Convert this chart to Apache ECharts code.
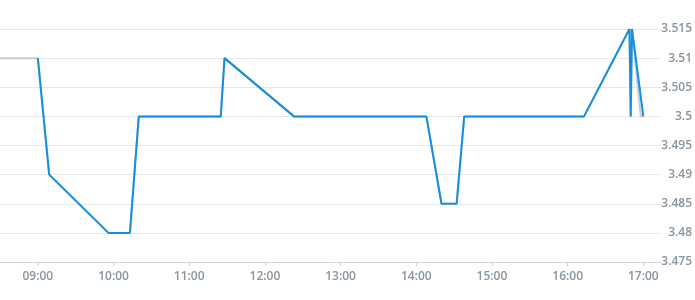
<!DOCTYPE html>
<html>
<head>
<meta charset="utf-8">
<script src="https://cdn.jsdelivr.net/npm/echarts@6/dist/echarts.min.js"></script>
<style>
html,body{margin:0;padding:0;background:#fff;}
#chart{width:695px;height:300px;}
</style>
</head>
<body>
<div id="chart"></div>
<script>
var day = '2024-01-02 ';
var blueTimes = ['09:00','09:09','09:56','10:13','10:20','11:25','11:28','12:23','14:08','14:20','14:32','14:38','16:13','16:49','16:50','16:51','17:00'];
var blueValues = [3.51,3.49,3.48,3.48,3.50,3.50,3.51,3.50,3.50,3.485,3.485,3.50,3.50,3.515,3.50,3.515,3.50];
var grayTimes = ['08:30','09:00','09:09','09:56','10:13','10:20','11:25','11:28','12:23','14:08','14:20','14:32','14:38','16:13','16:49','16:50','16:51','16:58','17:00'];
var grayValues = [3.51,3.51,3.49,3.48,3.48,3.50,3.50,3.51,3.50,3.50,3.485,3.485,3.50,3.50,3.515,3.50,3.515,3.50,3.50];
var xMin = '08:30';
var xMax = '17:14';
var yMin = 3.475, yMax = 3.515, yStep = 0.005;

function pairs(t, v){ return t.map(function(s,i){ return [day + s, v[i]]; }); }

var chart = echarts.init(document.getElementById('chart'), null, {renderer:'canvas'});
chart.setOption({
  animation:false,
  backgroundColor:'#fff',
  grid:{left:0, right:32, top:29, bottom:38, containLabel:false},
  xAxis:{
    type:'time',
    min: day + xMin,
    max: day + xMax,
    minInterval: 3600000,
    maxInterval: 3600000,
    axisLine:{lineStyle:{color:'#ccd3db', width:1}},
    axisTick:{show:true, length:4, lineStyle:{color:'#ccd3db'}},
    splitLine:{show:false},
    axisLabel:{
      formatter:'{HH}:{mm}',
      color:'#8a949e', fontSize:12, fontWeight:600,
      fontFamily:'"Open Sans", sans-serif', margin:9,
      hideOverlap:false
    }
  },
  yAxis:{
    type:'value',
    position:'right',
    min:yMin, max:yMax, interval:yStep,
    axisLine:{show:false},
    axisTick:{show:false},
    splitLine:{lineStyle:{color:'#e5e7ea', width:1}},
    axisLabel:{
      formatter:function(v){ return String(+v.toFixed(3)); },
      align:'right', margin:31,
      color:'#8a949e', fontSize:12, fontWeight:600,
      fontFamily:'"Open Sans", sans-serif'
    }
  },
  series:[
    {type:'line', data:pairs(grayTimes, grayValues), showSymbol:false, symbol:'none',
     lineStyle:{color:'#c5cbd1', width:2}, z:1},
    {type:'line', data:pairs(blueTimes, blueValues), showSymbol:false, symbol:'none',
     lineStyle:{color:'#168fe0', width:2}, z:2}
  ]
});
</script>
</body>
</html>
